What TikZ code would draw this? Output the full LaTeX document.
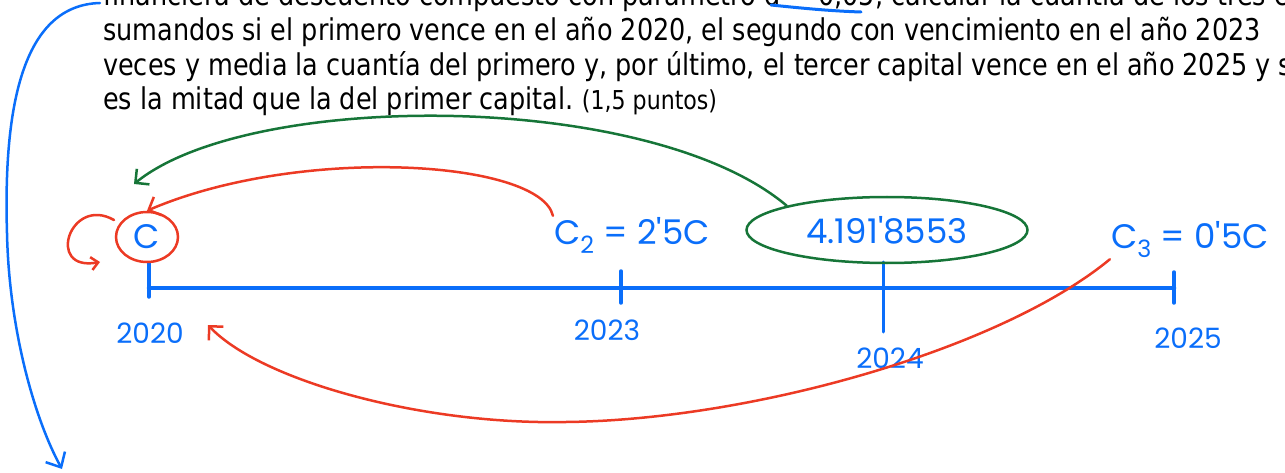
\documentclass[tikz,border=0pt]{standalone}
\usepackage{fontspec}
\setmainfont[FakeStretch=0.85]{DejaVu Sans}
\newfontfamily\handfont{Poppins}
\usetikzlibrary{arrows.meta, shapes.geometric, positioning}
\definecolor{hblue}{RGB}{10,110,250}
\definecolor{hred}{RGB}{236,58,36}
\definecolor{hgreen}{RGB}{22,117,56}

\begin{document}
\begin{tikzpicture}[x=1pt, y=-1pt,
  txt/.style={anchor=base west, inner sep=0pt, font=\fontsize{30}{35}\selectfont},
  small/.style={anchor=base west, inner sep=0pt, font=\fontsize{26}{30}\selectfont},
  hand/.style={text=hblue, inner sep=1pt, font=\handfont\fontsize{34}{34}\selectfont},
  year/.style={text=hblue, inner sep=1pt, font=\handfont\fontsize{28}{28}\selectfont},
  ring/.style={ellipse, line width=2.5pt, inner sep=0pt},
  axis/.style={hblue, line width=4.5pt, line cap=round},
  tick/.style={hblue, line width=3.5pt, line cap=round},
  rarr/.style={hred, line width=2.5pt, line cap=round, -{Straight Barb[length=10pt, width=20pt]}},
  garr/.style={hgreen, line width=2.5pt, line cap=round, -{Straight Barb[length=10pt, width=20pt]}},
  barr/.style={hblue, line width=2.5pt, line cap=round, -{Straight Barb[length=12pt, width=22pt]}}
]
\useasboundingbox (0,0) rectangle (1285,473);
\clip (0,0) rectangle (1285,473);

% enunciado
\node[txt] (l1) at (103,6) {financiera de descuento compuesto con parámetro d = 0,05, calcular la cuantía de los tres capitales};
\node[txt] (l2) at (103,41) {sumandos si el primero vence en el año 2020, el segundo con vencimiento en el año 2023};
\node[txt] (l3) at (103,76) {veces y media la cuantía del primero y, por último, el tercer capital vence en el año 2025 y su};
\node[txt] (l4) at (103,110) {es la mitad que la del primer capital.};
\node[small, right=8pt of l4.base east, anchor=base west] (pts) {(1,5 puntos)};
\draw[hblue, line width=3pt, line cap=round] (771,5) .. controls (800,8) and (830,11) .. (861,12);

% eje temporal
\coordinate (t20) at (149,288);
\coordinate (t23) at (621,288);
\coordinate (t24) at (883,288);
\coordinate (t25) at (1174,288);
\draw[axis] (t20) -- (t25);
\draw[tick] ([yshift=25pt]t20) -- ([yshift=-9pt]t20);
\draw[tick] ([yshift=17pt]t23) -- ([yshift=-15pt]t23);
\draw[tick, line width=3pt] ([yshift=26pt]t24) -- ([yshift=-44pt]t24);
\draw[tick] ([yshift=16pt]t25) -- ([yshift=-15pt]t25);

\node[year] (y20) at (150,333) {2020};
\node[year] (y23) at (607,330) {2023};
\node[year] (y24) at (890,358) {2024};
\node[year] (y25) at (1188,338) {2025};

% capitales
\node[hand, ring, draw=hred, minimum width=62pt, minimum height=50pt] (c1) at (147,237) {C};
\node[hand] (c2) at (632,235) {C\textsubscript{2} = 2'5C};
\node[hand, ring, draw=hgreen, minimum width=281pt, minimum height=66pt] (val) at (887,230) {4.191'8553};
\node[hand] (c3) at (1190,240) {C\textsubscript{3} = 0'5C};

\coordinate (qstart) at (100,3);
\coordinate (qend) at (62,469);
\coordinate (gend) at (134,184);
\coordinate (rend) at (208,325);
\coordinate (curl0) at (114,220);
\coordinate (curl1) at (100,262);

\draw[barr] (qstart) .. controls (25,5) and (3,100) .. (7,233) .. controls (9,330) and (35,420) .. (qend);
\draw[garr] (val.north west) .. controls (650,90) and (250,90) .. (gend);
\draw[rarr] (c2.north west) .. controls (540,160) and (300,145) .. (c1.north);
\draw[rarr] (c3.south west) .. controls (1000,350) and (750,420) .. (566,422) .. controls (420,425) and (260,380) .. (rend);
\draw[rarr, -{Straight Barb[length=7pt, width=13pt]}] (curl0) .. controls (70,195) and (45,272) .. (curl1);
\end{tikzpicture}
\end{document}
